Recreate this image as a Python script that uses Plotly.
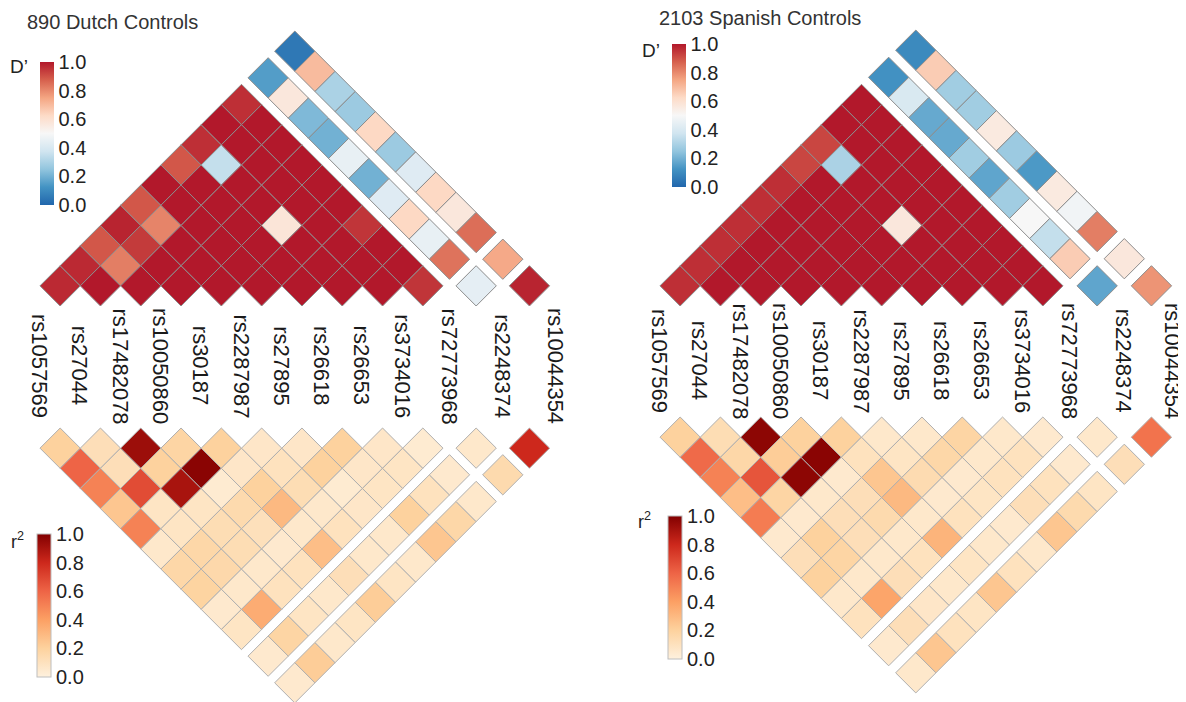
import numpy as np
import plotly.graph_objects as go

snps = ["rs1057569", "rs27044", "rs17482078", "rs10050860", "rs30187", "rs2287987",
        "rs27895", "rs26618", "rs26653", "rs3734016", "rs72773968", "rs2248374", "rs10044354"]

# Each row: first SNP a (1..12); values for second SNP b = a+1 .. 13
dutch_dprime = [
    [0.97, 0.97, 0.89, 0.98, 0.89, 1.00, 0.89, 0.96, 1.00, 0.96, 0.15, 0.05],
    [1.00, 0.82, 0.94, 0.81, 1.00, 1.00, 0.35, 1.00, 1.00, 0.57, 0.70],
    [1.00, 1.00, 1.00, 1.00, 1.00, 1.00, 1.00, 1.00, 0.22, 0.30],
    [1.00, 1.00, 1.00, 1.00, 1.00, 1.00, 1.00, 0.20, 0.27],
    [1.00, 1.00, 1.00, 0.58, 1.00, 1.00, 0.45, 0.63],
    [1.00, 1.00, 1.00, 1.00, 1.00, 0.20, 0.27],
    [1.00, 1.00, 1.00, 0.95, 0.42, 0.42],
    [1.00, 1.00, 1.00, 0.63, 0.63],
    [1.00, 1.00, 0.45, 0.57],
    [0.95, 0.84, 0.85],
    [0.44, 0.74],
    [0.98],
]
dutch_r2 = [
    [0.20, 0.60, 0.50, 0.25, 0.50, 0.06, 0.17, 0.19, 0.05, 0.08, 0.05, 0.05],
    [0.12, 0.12, 0.68, 0.08, 0.08, 0.17, 0.16, 0.06, 0.35, 0.18, 0.22],
    [0.93, 0.20, 0.90, 0.08, 0.13, 0.13, 0.06, 0.10, 0.08, 0.06],
    [0.18, 0.98, 0.04, 0.15, 0.11, 0.05, 0.10, 0.06, 0.08],
    [0.20, 0.07, 0.20, 0.30, 0.06, 0.28, 0.12, 0.22],
    [0.07, 0.10, 0.13, 0.06, 0.10, 0.06, 0.08],
    [0.07, 0.20, 0.04, 0.07, 0.06, 0.06],
    [0.20, 0.07, 0.08, 0.20, 0.25],
    [0.07, 0.08, 0.10, 0.17],
    [0.04, 0.05, 0.06],
    [0.06, 0.15],
    [0.80],
]
spanish_dprime = [
    [0.96, 0.96, 0.96, 0.96, 0.96, 0.96, 0.92, 0.92, 1.00, 1.00, 0.12, 0.10],
    [1.00, 1.00, 1.00, 1.00, 1.00, 1.00, 0.30, 1.00, 1.00, 0.40, 0.66],
    [1.00, 1.00, 1.00, 1.00, 1.00, 1.00, 1.00, 1.00, 0.18, 0.28],
    [1.00, 1.00, 1.00, 1.00, 1.00, 1.00, 1.00, 0.18, 0.28],
    [1.00, 1.00, 1.00, 0.57, 1.00, 1.00, 0.28, 0.56],
    [1.00, 1.00, 1.00, 1.00, 1.00, 0.17, 0.27],
    [1.00, 1.00, 1.00, 1.00, 0.28, 0.14],
    [1.00, 1.00, 1.00, 0.50, 0.56],
    [1.00, 1.00, 0.35, 0.48],
    [1.00, 0.66, 0.82],
    [0.17, 0.57],
    [0.78],
]
spanish_r2 = [
    [0.20, 0.58, 0.50, 0.28, 0.52, 0.05, 0.12, 0.20, 0.06, 0.10, 0.05, 0.06],
    [0.13, 0.17, 0.65, 0.18, 0.05, 0.20, 0.18, 0.06, 0.38, 0.12, 0.25],
    [0.97, 0.22, 0.97, 0.06, 0.12, 0.12, 0.06, 0.12, 0.07, 0.10],
    [0.20, 0.98, 0.05, 0.12, 0.15, 0.06, 0.10, 0.06, 0.08],
    [0.20, 0.10, 0.25, 0.30, 0.06, 0.32, 0.08, 0.25],
    [0.06, 0.08, 0.14, 0.05, 0.10, 0.06, 0.10],
    [0.06, 0.17, 0.05, 0.08, 0.05, 0.06],
    [0.18, 0.06, 0.10, 0.12, 0.25],
    [0.06, 0.10, 0.10, 0.15],
    [0.05, 0.05, 0.08],
    [0.06, 0.12],
    [0.55],
]

dprime_scale = [[0.0, "rgb(33,102,172)"], [0.125, "rgb(67,147,195)"], [0.25, "rgb(146,197,222)"],
                [0.375, "rgb(209,229,240)"], [0.5, "rgb(247,247,247)"], [0.625, "rgb(253,219,199)"],
                [0.75, "rgb(244,165,130)"], [0.875, "rgb(214,96,77)"], [1.0, "rgb(178,24,43)"]]
r2_scale = [[0.0, "rgb(254,241,222)"], [0.2, "rgb(253,210,158)"], [0.4, "rgb(252,160,100)"],
            [0.6, "rgb(238,100,70)"], [0.8, "rgb(205,40,28)"], [1.0, "rgb(130,0,0)"]]

tick_vals = [0.0, 0.2, 0.4, 0.6, 0.8, 1.0]
tick_text = ["0.0", "0.2", "0.4", "0.6", "0.8", "1.0"]

W, H = 1186, 702
OFF = 8  # the page body has an 8px margin; the plot area is shifted to compensate
PW, PH = W - OFF, H - OFF


def parse(c):
    return [float(v) for v in c[c.index("(") + 1:-1].split(",")]


def color_of(scale, v):
    v = min(max(v, 0.0), 1.0)
    for (p0, c0), (p1, c1) in zip(scale[:-1], scale[1:]):
        if v <= p1:
            t = 0 if p1 == p0 else (v - p0) / (p1 - p0)
            a, b = parse(c0), parse(c1)
            return "rgb(%d,%d,%d)" % tuple(round(a[k] + (b[k] - a[k]) * t) for k in range(3))
    return scale[-1][1]


fig = go.Figure()

panels = [
    dict(title="890 Dutch Controls", tx=25, ty=22, dp=dutch_dprime, r2=dutch_r2,
         p0=40, w=40.3, g=13, dbase=306, rbase=428, ly=366,
         dcb=(40, 62, 143), rcb=(37, 534, 143), dlab=(19, 66), rlab=(17, 540)),
    dict(title="2103 Spanish Controls", tx=657, ty=18, dp=spanish_dprime, r2=spanish_r2,
         p0=660, w=40.3, g=14, dbase=306, rbase=417, ly=361,
         dcb=(672, 44, 143), rcb=(668, 516, 143), dlab=(651, 50), rlab=(644, 520)),
]

n = len(snps)
for pn in panels:
    idx = np.arange(1, n + 1)
    A = pn["p0"] + pn["w"] * (idx - 1) + pn["g"] * np.maximum(0, idx - 10)
    B = pn["p0"] + pn["w"] * (idx - 1) + pn["g"] * np.maximum(0, idx - 11)
    hw = pn["w"] / 2
    for mat, scale, sign, base, lc in [(pn["dp"], dprime_scale, -1, pn["dbase"], "rgb(140,140,140)"),
                                       (pn["r2"], r2_scale, 1, pn["rbase"], "rgb(175,175,175)")]:
        for a, row in enumerate(mat):
            for k, v in enumerate(row):
                b = a + 1 + k
                cx = (A[a] + B[b]) / 2
                h = (B[b] - A[a]) / 2
                cy = base + sign * h
                xs = [cx - hw, cx, cx + hw, cx, cx - hw]
                ys = [cy, cy - hw, cy, cy + hw, cy]
                fig.add_trace(go.Scatter(
                    x=xs, y=ys, mode="lines", fill="toself",
                    fillcolor=color_of(scale, v), line=dict(color=lc, width=1),
                    hoverinfo="text", text="%s - %s: %.2f" % (snps[a], snps[b], v),
                    showlegend=False))
    # SNP labels
    for i, s in enumerate(snps):
        lx = min((A[i] + B[i]) / 2, W - 13)
        fig.add_annotation(x=lx, y=pn["ly"], text=s, textangle=90,
                           showarrow=False, xanchor="center", yanchor="middle",
                           font=dict(family="Liberation Sans, Arial", size=22, color="#1a1a1a"))
    fig.add_annotation(x=pn["tx"], y=pn["ty"], text=pn["title"], showarrow=False,
                       xanchor="left", yanchor="middle",
                       font=dict(family="Liberation Sans, Arial", size=20, color="#333333"))
    fig.add_annotation(x=pn["dlab"][0], y=pn["dlab"][1], text="D\u2019", showarrow=False,
                       xanchor="center", yanchor="middle",
                       font=dict(family="Liberation Sans, Arial", size=19, color="#222222"))
    fig.add_annotation(x=pn["rlab"][0], y=pn["rlab"][1], text="r<sup>2</sup>", showarrow=False,
                       xanchor="center", yanchor="middle",
                       font=dict(family="Liberation Sans, Arial", size=18, color="#222222"))
    for (cbx, cby, cblen), scale, outline in [(pn["dcb"], dprime_scale, 0), (pn["rcb"], r2_scale, 1)]:
        fig.add_trace(go.Scatter(
            x=[cbx], y=[cby], mode="markers", hoverinfo="skip", showlegend=False,
            marker=dict(size=1, opacity=0, color=[0.5], colorscale=scale, cmin=0, cmax=1,
                        showscale=True,
                        colorbar=dict(x=(cbx - OFF) / PW, xanchor="left", xpad=0, ypad=0,
                                      y=1 - (cby - OFF) / PH, yanchor="top",
                                      len=cblen, lenmode="pixels",
                                      thickness=14, thicknessmode="pixels",
                                      tickvals=tick_vals, ticktext=tick_text, ticks="",
                                      tickfont=dict(family="Liberation Sans, Arial", size=20,
                                                    color="#222222"),
                                      outlinewidth=outline, outlinecolor="rgb(190,190,190)",
                                      bgcolor="rgba(0,0,0,0)"))))

fig.update_layout(
    width=PW, height=PH, margin=dict(l=0, r=0, t=0, b=0),
    paper_bgcolor="white", plot_bgcolor="white", showlegend=False,
    xaxis=dict(range=[OFF, W], visible=False, fixedrange=True),
    yaxis=dict(range=[H, OFF], visible=False, fixedrange=True),
)
fig.write_html("out.html")
